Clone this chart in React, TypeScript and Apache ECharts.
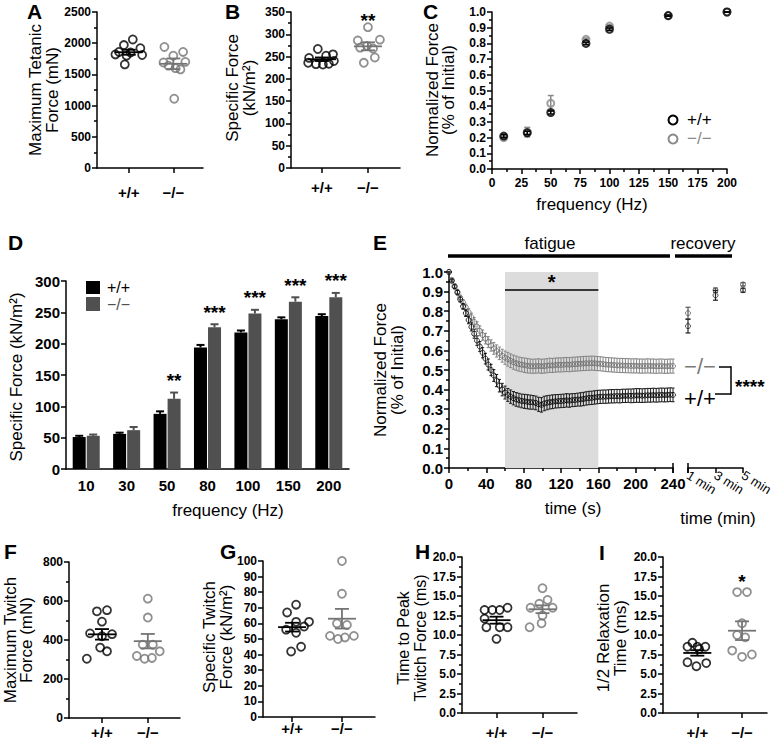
import React, { useEffect, useRef } from 'react';
import * as echarts from 'echarts';

const FF = "'Liberation Sans', Arial, Helvetica, sans-serif";
const GROUPS = ['+/+', '−/−'];
const WT = '#000000';
const KO = '#747474';
const KO_BAR = '#505050';

// ---------- A: maximum tetanic force (mN)
const A_wt = [2060, 1970, 1920, 1860, 1850, 1820, 1810, 1800, 1660];
const A_wt_jit = [0.09, -0.11, 0.26, -0.22, 0.04, -0.3, 0.3, -0.05, -0.09];
const A_ko = [1940, 1860, 1800, 1700, 1690, 1640, 1600, 1580, 1110];
const A_ko_jit = [-0.2, 0.22, 0.0, 0.27, -0.22, -0.11, 0.05, 0.16, 0.02];
const A_mean = [1855, 1670];
const A_sem = [40, 85];

// ---------- B: specific force (kN/m2)
const B_wt = [267, 255, 252, 247, 240, 236, 234, 233, 232];
const B_wt_jit = [-0.09, 0.24, 0.09, -0.28, 0.26, -0.3, 0.15, -0.13, 0.02];
const B_ko = [316, 288, 286, 274, 270, 268, 248, 236];
const B_ko_jit = [0, 0.26, -0.22, -0.02, -0.17, 0.11, 0.15, -0.09];
const B_mean = [244, 273];
const B_sem = [4, 9];
const B_star = '**';
const B_star_y = 340;

// ---------- C: normalized force vs frequency
const C_freq = [10, 30, 50, 80, 100, 150, 200];
const C_wt = [0.21, 0.23, 0.36, 0.8, 0.89, 0.977, 1.0];
const C_wt_err = [0.01, 0.01, 0.01, 0.008, 0.008, 0.004, 0];
const C_ko = [0.2, 0.235, 0.418, 0.826, 0.91, 0.977, 1.0];
const C_ko_err = [0.01, 0.03, 0.05, 0.008, 0.008, 0.004, 0];

// ---------- D: specific force vs frequency (bars)
const D_freq = ['10', '30', '50', '80', '100', '150', '200'];
const D_wt = [51, 56, 88, 194, 218, 239, 244];
const D_wt_err = [2, 2, 4, 4, 3, 3, 3];
const D_ko = [53, 62, 112, 226, 248, 267, 274];
const D_ko_err = [2, 5, 10, 5, 6, 7, 7];
const D_stars = ['', '', '**', '***', '***', '***', '***'];

// ---------- E: fatigue time course (s) and recovery (min)
const E_time = [0, 3, 6, 9, 12, 15, 18, 21, 24, 27, 30, 33, 36, 39, 42, 45, 48, 51, 54, 57, 60,
  63, 66, 69, 72, 75, 78, 81, 84, 87, 90, 93, 96, 99, 102, 105, 108, 111, 114, 117, 120,
  123, 126, 129, 132, 135, 138, 141, 144, 147, 150, 153, 156, 159, 162, 165, 168, 171, 174, 177, 180,
  183, 186, 189, 192, 195, 198, 201, 204, 207, 210, 213, 216, 219, 222, 225, 228, 231, 234, 237, 240];
const E_wt = [1.0, 0.955, 0.925, 0.895, 0.86, 0.825, 0.79, 0.755, 0.72, 0.685, 0.65, 0.62, 0.588, 0.558, 0.528, 0.5, 0.472, 0.446, 0.42, 0.4, 0.385,
  0.373, 0.364, 0.356, 0.35, 0.346, 0.342, 0.34, 0.338, 0.336, 0.335,
  0.332, 0.325, 0.322, 0.329, 0.333, 0.336, 0.338, 0.34, 0.341, 0.342,
  0.343, 0.345, 0.344, 0.346, 0.347, 0.349, 0.35, 0.352, 0.355, 0.357,
  0.358, 0.36, 0.362, 0.363, 0.364, 0.364, 0.365, 0.366, 0.366, 0.367,
  0.366, 0.368, 0.368, 0.369, 0.368, 0.369, 0.37, 0.37, 0.369, 0.37,
  0.371, 0.371, 0.372, 0.371, 0.372, 0.373, 0.372, 0.373, 0.374, 0.373];
const E_wt_err = [0, 0.006, 0.009, 0.011, 0.013, 0.015, 0.017, 0.019, 0.021, 0.023, 0.024, 0.025, 0.026, 0.027, 0.028, 0.029, 0.03, 0.031, 0.032, 0.032, 0.033,
  0.033, 0.034, 0.034, 0.035, 0.035, 0.035, 0.036, 0.036, 0.036, 0.035,
  0.035, 0.036, 0.037, 0.037, 0.036, 0.035, 0.035, 0.034, 0.034, 0.034,
  0.034, 0.034, 0.034, 0.033, 0.033, 0.033, 0.034, 0.034, 0.034, 0.034,
  0.034, 0.034, 0.034, 0.034, 0.034, 0.034, 0.034, 0.034, 0.034, 0.034,
  0.034, 0.034, 0.034, 0.034, 0.035, 0.035, 0.035, 0.035, 0.035, 0.035,
  0.035, 0.035, 0.035, 0.035, 0.035, 0.035, 0.035, 0.035, 0.035, 0.035];
const E_ko = [1.0, 0.96, 0.93, 0.9, 0.87, 0.845, 0.82, 0.795, 0.77, 0.745, 0.722, 0.7, 0.678, 0.66, 0.642, 0.625, 0.61, 0.597, 0.585, 0.573, 0.563,
  0.555, 0.547, 0.54, 0.535, 0.53, 0.527, 0.524, 0.522, 0.52, 0.519,
  0.52, 0.521, 0.519, 0.52, 0.522, 0.524, 0.523, 0.525, 0.526, 0.526,
  0.527, 0.528, 0.527, 0.529, 0.53, 0.531, 0.532, 0.533, 0.534, 0.534,
  0.535, 0.534, 0.533, 0.532, 0.53, 0.528, 0.527, 0.526, 0.525, 0.524,
  0.523, 0.523, 0.522, 0.522, 0.521, 0.521, 0.521, 0.52, 0.52, 0.52,
  0.521, 0.52, 0.52, 0.519, 0.52, 0.52, 0.519, 0.519, 0.52, 0.52];
const E_ko_err = [0, 0.005, 0.008, 0.01, 0.012, 0.014, 0.016, 0.018, 0.02, 0.022, 0.024, 0.025, 0.026, 0.027, 0.028, 0.029, 0.03, 0.031, 0.032, 0.033, 0.034,
  0.035, 0.035, 0.036, 0.036, 0.036, 0.036, 0.037, 0.037, 0.036, 0.036,
  0.036, 0.036, 0.036, 0.036, 0.036, 0.036, 0.036, 0.036, 0.036, 0.036,
  0.036, 0.036, 0.036, 0.036, 0.036, 0.036, 0.036, 0.036, 0.036, 0.036,
  0.036, 0.036, 0.036, 0.036, 0.036, 0.036, 0.036, 0.036, 0.036, 0.036,
  0.036, 0.036, 0.036, 0.036, 0.036, 0.036, 0.036, 0.036, 0.036, 0.036,
  0.036, 0.036, 0.036, 0.036, 0.036, 0.036, 0.036, 0.036, 0.036, 0.036];
const E_rec_time = [1, 3, 5];
const E_rec_wt = [0.724, 0.881, 0.907];
const E_rec_wt_err = [0.035, 0.025, 0.01];
const E_rec_ko = [0.79, 0.907, 0.937];
const E_rec_ko_err = [0.03, 0.011, 0.008];
const E_shade = [60, 160];
const E_sig_y = 0.91;

// ---------- F: maximum twitch force (mN)
const F_wt = [553, 547, 494, 434, 430, 419, 361, 342, 304];
const F_wt_jit = [0.11, -0.11, 0, -0.26, 0.22, 0, -0.04, 0.11, -0.33];
const F_ko = [612, 515, 376, 376, 342, 318, 308, 304];
const F_ko_jit = [0, 0, -0.11, 0.11, 0.26, -0.24, 0.09, -0.07];
const F_mean = [429, 394];
const F_sem = [27, 37];

// ---------- G: specific twitch force (kN/m2)
const G_wt = [72, 67, 61, 61, 58, 56, 54, 45, 42];
const G_wt_jit = [0.08, -0.1, 0.08, 0.34, 0.24, -0.12, 0.08, 0.18, -0.02];
const G_ko = [100, 79, 60, 59, 52, 52, 51, 50];
const G_ko_jit = [0, 0, -0.1, 0.1, -0.24, 0.24, 0.06, -0.08];
const G_mean = [57.6, 63];
const G_sem = [2.8, 6.3];

// ---------- H: time to peak twitch force (ms)
const H_wt = [13.5, 13.2, 13.2, 13.2, 12.1, 11.0, 11.0, 11.0, 9.5];
const H_wt_jit = [0.24, -0.26, -0.09, 0.07, -0.26, -0.22, 0.07, 0.24, 0];
const H_ko = [16.0, 14.5, 14.0, 13.5, 13.5, 12.5, 11.5, 11.0];
const H_ko_jit = [0, 0.11, -0.07, -0.26, 0.22, 0, -0.02, -0.28];
const H_mean = [11.9, 13.3];
const H_sem = [0.45, 0.5];

// ---------- I: 1/2 relaxation time (ms)
const I_wt = [9.0, 8.5, 8.5, 8.5, 8.2, 6.5, 6.0, 6.4];
const I_wt_jit = [-0.11, -0.22, 0, 0.18, 0.04, -0.22, -0.02, 0.2];
const I_ko = [15.5, 15.5, 11.5, 10.0, 9.7, 8.0, 7.5, 7.2];
const I_ko_jit = [-0.11, 0.11, 0, -0.11, 0.07, -0.22, 0.22, 0];
const I_mean = [7.7, 10.55];
const I_sem = [0.35, 1.2];
const I_star = '*';
const I_star_y = 17.4;

// ---------- layout
const GRIDS = [
  { left: 97, top: 12, width: 106, height: 156 }, // A 0
  { left: 291, top: 12, width: 109, height: 156 }, // B 1
  { left: 492, top: 12, width: 235, height: 157 }, // C 2
  { left: 66, top: 281, width: 283, height: 188 }, // D 3
  { left: 449, top: 272, width: 224, height: 196 }, // E 4
  { left: 688, top: 272, width: 55, height: 196 }, // E recovery 5
  { left: 69, top: 562, width: 111, height: 156 }, // F 6
  { left: 263, top: 561, width: 112, height: 156 }, // G 7
  { left: 462, top: 557, width: 115, height: 156 }, // H 8
  { left: 663, top: 557, width: 104, height: 156 }, // I 9
];

const LINE = { color: '#000', width: 1.5 };

function yAxisCfg(gridIndex: number, min: number, max: number, interval: number, o: any = {}) {
  return {
    type: 'value', gridIndex, min, max, interval, show: o.show !== false,
    axisLine: { show: true, onZero: false, lineStyle: LINE },
    axisTick: { show: true, length: 5, lineStyle: LINE },
    minorTick: { show: !!o.minor, splitNumber: 2, length: 3, lineStyle: LINE },
    axisLabel: {
      show: true, margin: 6, color: '#000', fontSize: o.fontSize ?? 12, fontWeight: 'bold', fontFamily: FF,
      formatter: (v: number) => (o.decimals != null ? v.toFixed(o.decimals) : String(v)),
    },
    splitLine: { show: false }, minorSplitLine: { show: false },
  };
}

function catXAxis(gridIndex: number, min: number, max: number, margin: number) {
  return {
    type: 'value', gridIndex, min, max,
    axisLine: { show: true, onZero: false, lineStyle: LINE },
    axisTick: { show: true, length: 5, lineStyle: LINE, customValues: [1, 2] },
    axisLabel: {
      show: true, customValues: [1, 2], margin, color: '#000', fontSize: 15, fontWeight: 'bold', fontFamily: FF,
      formatter: (v: number) => GROUPS[Math.round(v) - 1] ?? '',
    },
    splitLine: { show: false }, minorTick: { show: false },
  };
}

function dotSeries(idx: number, wt: number[], wtJit: number[], ko: number[], koJit: number[], mean: number[], sem: number[]) {
  const pts = (vals: number[], jit: number[], g: number) => vals.map((v, i) => [g + jit[i], v]);
  const mk = (name: string, data: number[][], color: string) => ({
    type: 'scatter', name, xAxisIndex: idx, yAxisIndex: idx, data, symbol: 'circle', symbolSize: 8, z: 2,
    itemStyle: { color: 'rgba(0,0,0,0)', borderColor: color, borderWidth: 1.8 }, silent: true,
  });
  const colors = [WT, KO];
  return [
    mk(GROUPS[0], pts(wt, wtJit, 1), WT),
    mk(GROUPS[1], pts(ko, koJit, 2), KO),
    {
      type: 'custom', xAxisIndex: idx, yAxisIndex: idx, z: 3, silent: true,
      data: [[1, mean[0], sem[0]], [2, mean[1], sem[1]]],
      renderItem: (params: any, api: any) => {
        const x = api.value(0), m = api.value(1), s = api.value(2);
        const c = api.coord([x, m]);
        const t = api.coord([x, m + s]);
        const b = api.coord([x, m - s]);
        const st = { stroke: colors[params.dataIndex], lineWidth: 1.8 };
        return {
          type: 'group', children: [
            { type: 'line', shape: { x1: c[0] - 14, y1: c[1], x2: c[0] + 14, y2: c[1] }, style: st },
            { type: 'line', shape: { x1: c[0], y1: t[1], x2: c[0], y2: b[1] }, style: st },
            { type: 'line', shape: { x1: c[0] - 7, y1: t[1], x2: c[0] + 7, y2: t[1] }, style: st },
            { type: 'line', shape: { x1: c[0] - 7, y1: b[1], x2: c[0] + 7, y2: b[1] }, style: st },
          ],
        };
      },
    },
  ];
}

function errSeries(xi: number, data: number[][], color: string, cap: number, lw: number, z: number, both = true, dx = 0) {
  return {
    type: 'custom', xAxisIndex: xi, yAxisIndex: xi, z, silent: true, data,
    renderItem: (params: any, api: any) => {
      const x = api.value(0), v = api.value(1), e = api.value(2);
      const t = api.coord([x, v + e]);
      const b = api.coord([x, both ? v - e : v]);
      const st = { stroke: color, lineWidth: lw };
      const px = t[0] + dx;
      const ch: any[] = [
        { type: 'line', shape: { x1: px, y1: t[1], x2: px, y2: b[1] }, style: st },
        { type: 'line', shape: { x1: px - cap, y1: t[1], x2: px + cap, y2: t[1] }, style: st },
      ];
      if (both) ch.push({ type: 'line', shape: { x1: px - cap, y1: b[1], x2: px + cap, y2: b[1] }, style: st });
      return { type: 'group', children: ch };
    },
  };
}

function starSeries(xi: number, data: number[][], texts: string[], size: number, dx = 0, dy = 0) {
  return {
    type: 'custom', xAxisIndex: xi, yAxisIndex: xi, z: 6, silent: true, data,
    renderItem: (params: any, api: any) => {
      const p = api.coord([api.value(0), api.value(1)]);
      return {
        type: 'text', x: p[0] + dx, y: p[1] + dy,
        style: { text: texts[params.dataIndex], fill: '#000', font: `bold ${size}px ${FF}`, align: 'center', verticalAlign: 'middle', textAlign: 'center', textVerticalAlign: 'middle' },
      };
    },
  };
}

function hollow(name: string, xi: number, data: number[][], color: string, size: number, bw: number, z: number) {
  return {
    type: 'scatter', name, xAxisIndex: xi, yAxisIndex: xi, data, symbol: 'circle', symbolSize: size, z, silent: true,
    itemStyle: { color: 'rgba(0,0,0,0)', borderColor: color, borderWidth: bw },
  };
}

function txt(text: string, x: number, y: number, font: string, o: any = {}) {
  return {
    type: 'text', x, y, rotation: o.rotation ?? 0, silent: true,
    style: {
      text, fill: o.fill ?? '#000', font, lineHeight: o.lineHeight,
      align: o.align ?? 'center', verticalAlign: 'middle', textAlign: o.align ?? 'center', textVerticalAlign: 'middle',
    },
  };
}
function ln(x1: number, y1: number, x2: number, y2: number, w = 1.5) {
  return { type: 'line', silent: true, shape: { x1, y1, x2, y2 }, style: { stroke: '#000', lineWidth: w } };
}

function buildOption() {
  const xAxis: any[] = [
    catXAxis(0, 0.286, 2.667, 17),
    catXAxis(1, 0.327, 2.697, 12),
    {
      type: 'value', gridIndex: 2, min: 0, max: 200, interval: 25,
      axisLine: { show: true, onZero: false, lineStyle: LINE },
      axisTick: { show: true, length: 5, lineStyle: LINE },
      minorTick: { show: true, splitNumber: 2, length: 3, lineStyle: LINE },
      axisLabel: { margin: 8, color: '#000', fontSize: 12, fontWeight: 'bold', fontFamily: FF },
      splitLine: { show: false },
    },
    {
      type: 'category', gridIndex: 3, data: D_freq,
      axisLine: { show: true, onZero: false, lineStyle: LINE },
      axisTick: { show: false },
      axisLabel: { margin: 9, color: '#000', fontSize: 15, fontWeight: 'bold', fontFamily: FF },
    },
    {
      type: 'value', gridIndex: 4, min: 0, max: 240, interval: 40,
      axisLine: { show: true, onZero: false, lineStyle: LINE },
      axisTick: { show: true, length: 5, lineStyle: LINE },
      minorTick: { show: true, splitNumber: 2, length: 3, lineStyle: LINE },
      axisLabel: { margin: 8, color: '#000', fontSize: 15, fontWeight: 'bold', fontFamily: FF },
      splitLine: { show: false },
    },
    {
      type: 'value', gridIndex: 5, min: 1, max: 5, interval: 2,
      axisLine: { show: true, onZero: false, lineStyle: LINE },
      axisTick: { show: true, length: 5, lineStyle: LINE },
      axisLabel: { margin: 6, rotate: -32, color: '#000', fontSize: 13, fontFamily: FF, formatter: (v: number) => `${v} min` },
      splitLine: { show: false },
    },
    catXAxis(6, 0.281, 2.702, 7),
    catXAxis(7, 0.416, 2.663, 4),
    catXAxis(8, 0.25, 2.75, 12),
    catXAxis(9, 0.233, 2.558, 12),
  ];
  const yAxis: any[] = [
    yAxisCfg(0, 0, 2500, 500, { minor: true }),
    yAxisCfg(1, 0, 350, 50, { minor: true }),
    yAxisCfg(2, 0, 1, 0.1, { minor: true, decimals: 1 }),
    yAxisCfg(3, 0, 300, 50, { fontSize: 15 }),
    yAxisCfg(4, 0, 1, 0.1, { minor: true, decimals: 1, fontSize: 15 }),
    yAxisCfg(5, 0, 1, 0.1, { show: false }),
    yAxisCfg(6, 0, 800, 200, { minor: true }),
    yAxisCfg(7, 0, 100, 10, {}),
    yAxisCfg(8, 0, 20, 2.5, { minor: true, decimals: 1 }),
    yAxisCfg(9, 0, 20, 2.5, { minor: true, decimals: 1 }),
  ];

  const zip3 = (xs: any[], vs: number[], es: number[]) => xs.map((x, i) => [x, vs[i], es[i]]);
  const zip2 = (xs: any[], vs: number[]) => xs.map((x, i) => [x, vs[i]]);

  const series: any[] = [
    ...dotSeries(0, A_wt, A_wt_jit, A_ko, A_ko_jit, A_mean, A_sem),
    ...dotSeries(1, B_wt, B_wt_jit, B_ko, B_ko_jit, B_mean, B_sem),
    starSeries(1, [[2, B_star_y]], [B_star], 19, 0, 4),
    // C
    errSeries(2, zip3(C_freq, C_ko, C_ko_err), '#8a8a8a', 3, 1.5, 2),
    hollow(GROUPS[1], 2, zip2(C_freq, C_ko), '#8a8a8a', 7, 2, 3),
    errSeries(2, zip3(C_freq, C_wt, C_wt_err), WT, 3, 1.5, 4),
    hollow(GROUPS[0], 2, zip2(C_freq, C_wt), WT, 7, 2, 5),
    // D
    {
      type: 'bar', name: GROUPS[0], xAxisIndex: 3, yAxisIndex: 3, data: D_wt, barWidth: 13, barGap: '8%',
      itemStyle: { color: WT }, silent: true,
    },
    {
      type: 'bar', name: GROUPS[1], xAxisIndex: 3, yAxisIndex: 3, data: D_ko, barWidth: 13, barGap: '8%',
      itemStyle: { color: KO_BAR }, silent: true,
    },
    errSeries(3, D_wt.map((v, i) => [i, v, D_wt_err[i]]), WT, 4, 2, 4, false, -7),
    errSeries(3, D_ko.map((v, i) => [i, v, D_ko_err[i]]), KO_BAR, 4, 2, 4, false, 7),
    starSeries(3, D_ko.map((v, i) => [i, v + D_ko_err[i]]), D_stars, 19, 7, -12),
    // E
    {
      type: 'scatter', xAxisIndex: 4, yAxisIndex: 4, data: [], z: 1, silent: true,
      markArea: {
        silent: true, itemStyle: { color: '#dcdcdc' },
        data: [[{ coord: [E_shade[0], 0] }, { coord: [E_shade[1], 1] }]],
      },
      markLine: {
        silent: true, symbol: 'none', lineStyle: { color: '#000', width: 1.5, type: 'solid' },
        label: { show: true, position: 'middle', formatter: '*', color: '#000', fontSize: 20, fontWeight: 'bold', fontFamily: FF, distance: -2 },
        data: [[{ coord: [E_shade[0], E_sig_y] }, { coord: [E_shade[1], E_sig_y] }]],
      },
    },
    errSeries(4, zip3(E_time, E_ko, E_ko_err), '#858585', 1.6, 1, 2),
    hollow(GROUPS[1], 4, zip2(E_time, E_ko), '#6a6a6a', 5, 1, 3),
    errSeries(4, zip3(E_time, E_wt, E_wt_err), '#1a1a1a', 1.6, 1, 4),
    hollow(GROUPS[0], 4, zip2(E_time, E_wt), '#000', 5, 1, 5),
    errSeries(5, zip3(E_rec_time, E_rec_ko, E_rec_ko_err), '#555', 2.5, 1.2, 2),
    hollow(GROUPS[1], 5, zip2(E_rec_time, E_rec_ko), '#555', 5, 1, 3),
    errSeries(5, zip3(E_rec_time, E_rec_wt, E_rec_wt_err), '#222', 2.5, 1.2, 4),
    hollow(GROUPS[0], 5, zip2(E_rec_time, E_rec_wt), '#222', 5, 1, 5),
    // F-I
    ...dotSeries(6, F_wt, F_wt_jit, F_ko, F_ko_jit, F_mean, F_sem),
    ...dotSeries(7, G_wt, G_wt_jit, G_ko, G_ko_jit, G_mean, G_sem),
    ...dotSeries(8, H_wt, H_wt_jit, H_ko, H_ko_jit, H_mean, H_sem),
    ...dotSeries(9, I_wt, I_wt_jit, I_ko, I_ko_jit, I_mean, I_sem),
    starSeries(9, [[2, I_star_y]], [I_star], 19, 0, 4),
  ];

  const LET = `bold 21px ${FF}`;
  const NAME = `17px ${FF}`;
  const LEG = `16px ${FF}`;
  const graphic: any[] = [
    txt('A', 27, 11.5, LET, { align: 'left' }),
    txt('B', 225, 11.5, LET, { align: 'left' }),
    txt('C', 423, 11, LET, { align: 'left' }),
    txt('D', 8, 242, LET, { align: 'left' }),
    txt('E', 373, 242, LET, { align: 'left' }),
    txt('F', 4, 551, LET, { align: 'left' }),
    txt('G', 220, 551, LET, { align: 'left' }),
    txt('H', 415, 551, LET, { align: 'left' }),
    txt('I', 599, 552, LET, { align: 'left' }),
    // y-axis names
    txt('Maximum Tetanic\nForce (mN)', 44, 90, NAME, { rotation: Math.PI / 2, lineHeight: 17 }),
    txt('Specific Force\n(kN/m²)', 241, 88, NAME, { rotation: Math.PI / 2, lineHeight: 17 }),
    txt('Normalized Force\n(% of Initial)', 440, 90, NAME, { rotation: Math.PI / 2, lineHeight: 16 }),
    txt('Specific Force (kN/m²)', 16, 377, NAME, { rotation: Math.PI / 2 }),
    txt('Normalized Force\n(% of Initial)', 389, 370, NAME, { rotation: Math.PI / 2, lineHeight: 17 }),
    txt('Maximum Twitch\nForce (mN)', 18, 640, NAME, { rotation: Math.PI / 2, lineHeight: 16 }),
    txt('Specific Twitch\nForce (kN/m²)', 218, 637, NAME, { rotation: Math.PI / 2, lineHeight: 17 }),
    txt('Time to Peak\nTwitch Force (ms)', 412, 638, `16px ${FF}`, { rotation: Math.PI / 2, lineHeight: 17 }),
    txt('1/2 Relaxation\nTime (ms)', 612, 638, NAME, { rotation: Math.PI / 2, lineHeight: 17 }),
    // x-axis names
    txt('frequency (Hz)', 592, 204, NAME),
    txt('frequency (Hz)', 228, 510, NAME),
    txt('time (s)', 573, 508, NAME),
    txt('time (min)', 718, 518, NAME),
    // C legend
    { type: 'circle', silent: true, shape: { cx: 673, cy: 120, r: 4.5 }, style: { fill: 'none', stroke: WT, lineWidth: 2 } },
    txt(GROUPS[0], 687, 119, NAME, { align: 'left' }),
    { type: 'circle', silent: true, shape: { cx: 673, cy: 139, r: 4.5 }, style: { fill: 'none', stroke: '#8a8a8a', lineWidth: 2 } },
    txt(GROUPS[1], 687, 138, NAME, { align: 'left', fill: '#8a8a8a' }),
    // D legend
    { type: 'rect', silent: true, shape: { x: 86, y: 281, width: 14, height: 13 }, style: { fill: WT } },
    txt(GROUPS[0], 107, 287, LEG, { align: 'left' }),
    { type: 'rect', silent: true, shape: { x: 86, y: 297, width: 14, height: 14 }, style: { fill: KO_BAR } },
    txt(GROUPS[1], 107, 304.5, LEG, { align: 'left', fill: KO_BAR }),
    // E annotations
    ln(448, 256, 670, 256, 3.5),
    txt('fatigue', 550, 243, NAME),
    ln(675, 256, 732, 256, 3.5),
    txt('recovery', 703, 243, NAME),
    ln(673, 463, 673, 473),
    ln(688, 463, 688, 473),
    txt(GROUPS[1], 700, 366, `22px ${FF}`, { fill: '#7a7a7a' }),
    txt(GROUPS[0], 700, 398, `22px ${FF}`),
    ln(719, 367, 731, 367),
    ln(731, 366.3, 731, 394.7),
    ln(715, 394, 731, 394),
    txt('****', 735, 386, `bold 19px ${FF}`, { align: 'left' }),
  ];

  return {
    animation: false,
    backgroundColor: '#ffffff',
    textStyle: { fontFamily: FF },
    grid: GRIDS.map((g) => ({ ...g, containLabel: false })),
    xAxis, yAxis, series, graphic,
  };
}

export default function App() {
  const ref = useRef<HTMLDivElement>(null);
  useEffect(() => {
    document.body.style.margin = '0';
    if (!ref.current) return;
    const chart = echarts.init(ref.current, undefined, { renderer: 'svg' });
    chart.setOption(buildOption() as any);
    return () => chart.dispose();
  }, []);
  return <div ref={ref} style={{ width: 777, height: 742, background: '#fff' }} />;
}
